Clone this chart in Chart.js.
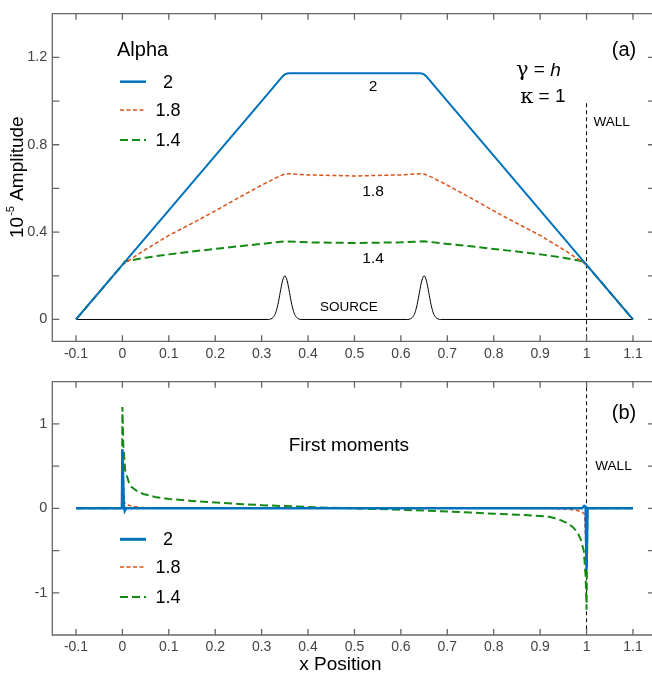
<!DOCTYPE html>
<html>
<head>
<meta charset="utf-8">
<script src="https://cdn.jsdelivr.net/npm/chart.js@4.4.1/dist/chart.umd.min.js"></script>
<style>
  html, body { margin: 0; padding: 0; background: #fff; }
  #wrap { position: relative; width: 652px; height: 679px; }
  canvas { position: absolute; left: 0; top: 0; }
</style>
</head>
<body>
<div id="wrap">
  <canvas id="topChart" width="652" height="679"></canvas>
  <canvas id="bottomChart" width="652" height="679"></canvas>
</div>
<script>
// axis ticks
const xTicks = [-0.1, 0, 0.1, 0.2, 0.3, 0.4, 0.5, 0.6, 0.7, 0.8, 0.9, 1, 1.1];
const xTickLabels = ['-0.1', '0', '0.1', '0.2', '0.3', '0.4', '0.5', '0.6', '0.7', '0.8', '0.9', '1', '1.1'];
const topYTicks = [0, 0.4, 0.8, 1.2];
const topYLabels = ['0', '0.4', '0.8', '1.2'];
const topYMinor = [0.2, 0.6, 1.0];
const bottomYTicks = [-1, 0, 1];
const bottomYLabels = ['-1', '0', '1'];
const bottomYMinor = [-0.5, 0.5];
const legendLabels = ['2', '1.8', '1.4'];

// (a) amplitude
const ampX2 = [-0.1, 0, 0.3, 0.33, 0.34, 0.345, 0.35, 0.355, 0.36, 0.64, 0.645, 0.65, 0.655, 0.66, 0.67, 0.7, 1.0, 1.1];
const ampY2 = [0, 0.25, 1.0, 1.075, 1.1, 1.113, 1.122, 1.126, 1.127, 1.127, 1.126, 1.122, 1.113, 1.1, 1.075, 1.0, 0.25, 0];

const ampX18 = [-0.1, 0, 0.045, 0.1, 0.15, 0.2, 0.25, 0.3, 0.34, 0.35, 0.36, 0.4, 0.5, 0.6, 0.64, 0.65, 0.66, 0.7, 0.75, 0.8, 0.85, 0.9, 0.955, 1.0, 1.1];
const ampY18 = [0, 0.25, 0.314, 0.385, 0.44, 0.497, 0.557, 0.615, 0.658, 0.666, 0.667, 0.662, 0.657, 0.662, 0.667, 0.666, 0.658, 0.615, 0.557, 0.497, 0.44, 0.385, 0.314, 0.25, 0];

const ampX14 = [-0.1, 0, 0.005, 0.05, 0.1, 0.15, 0.2, 0.25, 0.3, 0.35, 0.4, 0.5, 0.6, 0.65, 0.7, 0.75, 0.8, 0.85, 0.9, 0.95, 0.995, 1.0, 1.1];
const ampY14 = [0, 0.25, 0.265, 0.283, 0.298, 0.311, 0.323, 0.335, 0.346, 0.358, 0.353, 0.350, 0.353, 0.358, 0.346, 0.335, 0.323, 0.311, 0.298, 0.283, 0.265, 0.25, 0];

const sourceX = [-0.1, 0.315, 0.32, 0.325, 0.33, 0.335, 0.34, 0.345, 0.35, 0.355, 0.36, 0.365, 0.37, 0.375, 0.38, 0.385,
                 0.615, 0.62, 0.625, 0.63, 0.635, 0.64, 0.645, 0.65, 0.655, 0.66, 0.665, 0.67, 0.675, 0.68, 0.685, 1.1];
const sourceY = [0, 0, 0.0025, 0.01, 0.029, 0.068, 0.124, 0.177, 0.2, 0.177, 0.124, 0.068, 0.029, 0.01, 0.0025, 0,
                 0, 0.0025, 0.01, 0.029, 0.068, 0.124, 0.177, 0.2, 0.177, 0.124, 0.068, 0.029, 0.01, 0.0025, 0, 0];

const wallX = [1, 1];
const wallTopY = [0.99, -0.2];
const wallBottomY = [1.6, -1.6];

// (b) first moments
const momX2 = [-0.1, -0.001, 0, 0.003, 0.005, 0.008, 0.99, 0.995, 0.998, 1.0, 1.002, 1.1];
const momY2 = [0, 0, 0.7, 0.05, -0.03, 0, 0, 0.03, 0.02, -0.73, 0, 0];

const momX18 = [-0.1, -0.001, 0, 0.004, 0.01, 0.02, 0.04, 0.08, 0.15, 0.85, 0.92, 0.96, 0.98, 0.99, 0.996, 1.0, 1.002, 1.1];
const momY18 = [0, 0, 0.7, 0.07, 0.045, 0.025, 0.01, 0.003, 0, 0, -0.003, -0.01, -0.025, -0.045, -0.07, -0.7, 0, 0];

const momX14 = [-0.1, -0.001, 0, 0.002, 0.006, 0.016, 0.03, 0.045, 0.07, 0.1, 0.15, 0.2, 0.25, 0.3, 0.35, 0.4, 0.45, 0.5,
                0.55, 0.6, 0.65, 0.7, 0.75, 0.8, 0.85, 0.9, 0.92, 0.94, 0.96, 0.97, 0.98, 0.987, 0.994, 0.998, 1.0, 1.002, 1.1];
const momY14 = [0, 0, 1.2, 0.75, 0.45, 0.27, 0.21, 0.17, 0.135, 0.112, 0.088, 0.07, 0.052, 0.038, 0.027, 0.016, 0.007, 0,
                -0.007, -0.016, -0.027, -0.038, -0.05, -0.063, -0.075, -0.09, -0.1, -0.13, -0.18, -0.22, -0.28, -0.36, -0.5, -0.8, -1.2, 0, 0];

const BLUE = '#0072BD';
const ORANGE = '#D95319';
const GREEN = '#138A13';
const SANS = '"Liberation Sans", Arial, Helvetica, sans-serif';
const SERIF = '"DejaVu Serif", "Liberation Serif", serif';

const pts = (xs, ys) => xs.map((x, i) => ({ x: x, y: ys[i] }));

function line(data, color, width, dash, extra) {
    return Object.assign({
        data: data,
        showLine: true,
        borderColor: color,
        borderWidth: width,
        borderDash: dash,
        pointRadius: 0,
        fill: false,
        tension: 0
    }, extra || {});
}

function drawLegend(ctx, rows, blueWidth) {
    const styles = [
        { color: BLUE, width: blueWidth, dash: [] },
        { color: ORANGE, width: 1.5, dash: [4, 2.5] },
        { color: GREEN, width: 2, dash: [8, 4] }
    ];
    ctx.font = '18px ' + SANS;
    ctx.textBaseline = 'middle';
    ctx.textAlign = 'center';
    styles.forEach((s, i) => {
        ctx.save();
        ctx.strokeStyle = s.color;
        ctx.lineWidth = s.width;
        ctx.setLineDash(s.dash);
        ctx.beginPath();
        ctx.moveTo(120, rows[i]);
        ctx.lineTo(146, rows[i]);
        ctx.stroke();
        ctx.restore();
        ctx.fillStyle = '#000';
        ctx.fillText(legendLabels[i], 168, rows[i] + 1);
    });
}

function decor(yMinor, extras) {
    return {
        id: 'decor',
        afterDraw(chart) {
            const ctx = chart.ctx;
            const a = chart.chartArea;
            const xs = chart.scales.x, ys = chart.scales.y;
            ctx.save();
            ctx.strokeStyle = '#666';
            ctx.lineWidth = 1.3;
            // left, top and bottom of the box (right edge falls off the page)
            ctx.beginPath();
            ctx.moveTo(a.right, a.top); ctx.lineTo(a.left, a.top);
            ctx.lineTo(a.left, a.bottom); ctx.lineTo(a.right, a.bottom);
            ctx.stroke();
            ctx.beginPath();
            xTicks.forEach(v => {
                const p = xs.getPixelForValue(v);
                ctx.moveTo(p, a.bottom); ctx.lineTo(p, a.bottom - 6);
                ctx.moveTo(p, a.top); ctx.lineTo(p, a.top + 6);
            });
            ys.ticks.map(t => t.value).concat(yMinor).forEach(v => {
                const p = ys.getPixelForValue(v);
                ctx.moveTo(a.left, p); ctx.lineTo(a.left + 7, p);
                ctx.moveTo(a.right, p); ctx.lineTo(a.right - 4, p);
            });
            ctx.stroke();
            ctx.fillStyle = '#000';
            extras(ctx, xs, ys);
            ctx.restore();
        }
    };
}

function options(yMin, yMax, yTicks, yLabels, padTop, padBottom, xHeight) {
    return {
        responsive: false,
        animation: false,
        events: [],
        layout: { padding: { top: padTop, bottom: padBottom, left: 0, right: 0 } },
        plugins: { legend: { display: false }, tooltip: { enabled: false } },
        scales: {
            x: {
                type: 'linear', min: -0.151, max: 1.141, bounds: 'data',
                grid: { display: false, drawTicks: false },
                border: { display: false },
                afterBuildTicks: s => { s.ticks = xTicks.map(v => ({ value: v })); },
                afterFit: s => { s.height = xHeight; },
                ticks: {
                    callback: (v, i) => xTickLabels[i],
                    color: '#444', font: { family: SANS, size: 14 },
                    padding: 4, maxRotation: 0, autoSkip: false
                }
            },
            y: {
                type: 'linear', min: yMin, max: yMax, bounds: 'data',
                grid: { display: false, drawTicks: false },
                border: { display: false },
                afterBuildTicks: s => { s.ticks = yTicks.map(v => ({ value: v })); },
                afterFit: s => { s.width = 52.3; },
                ticks: {
                    callback: (v, i) => yLabels[i],
                    color: '#444', font: { family: SANS, size: 14.5 },
                    padding: 5, autoSkip: false
                }
            }
        }
    };
}

new Chart(document.getElementById('topChart'), {
    type: 'scatter',
    data: {
        datasets: [
            line(pts(ampX2, ampY2), BLUE, 2, []),
            line(pts(ampX18, ampY18), ORANGE, 1.5, [4, 2.5]),
            line(pts(ampX14, ampY14), GREEN, 2, [8, 4]),
            line(pts(sourceX, sourceY), '#000', 1, [], { cubicInterpolationMode: 'monotone' }),
            line(pts(wallX, wallTopY), '#000', 1, [4, 3])
        ]
    },
    options: options(-0.1, 1.4, topYTicks, topYLabels, 4, 307.7, 30),
    plugins: [decor(topYMinor, (ctx, x, y) => {
        ctx.textBaseline = 'middle';
        ctx.textAlign = 'center';
        ctx.font = '15.5px ' + SANS;
        ctx.fillText('2', x.getPixelForValue(0.54), y.getPixelForValue(1.067));
        ctx.fillText('1.8', x.getPixelForValue(0.54), y.getPixelForValue(0.587));
        ctx.fillText('1.4', x.getPixelForValue(0.54), y.getPixelForValue(0.276));
        ctx.font = '13.5px ' + SANS;
        ctx.fillText('SOURCE', x.getPixelForValue(0.488), y.getPixelForValue(0.058));
        ctx.textAlign = 'left';
        ctx.fillText('WALL', x.getPixelForValue(1.015), y.getPixelForValue(0.903));
        ctx.textAlign = 'right';
        ctx.font = '20px ' + SANS;
        ctx.fillText('(a)', x.getPixelForValue(1.107), y.getPixelForValue(1.233));

        // gamma = h, kappa = 1
        ctx.textAlign = 'left';
        let px = x.getPixelForValue(0.848), py = y.getPixelForValue(1.141);
        ctx.font = '21px ' + SERIF;
        ctx.fillText('γ', px, py);
        px += ctx.measureText('γ').width;
        ctx.font = '19px ' + SANS;
        ctx.fillText(' = ', px, py);
        px += ctx.measureText(' = ').width;
        ctx.font = 'italic 19px ' + SANS;
        ctx.fillText('h', px, py);
        px = x.getPixelForValue(0.857); py = y.getPixelForValue(1.018);
        ctx.font = '21px ' + SERIF;
        ctx.fillText('κ', px, py);
        px += ctx.measureText('κ').width;
        ctx.font = '19px ' + SANS;
        ctx.fillText(' = 1', px, py);

        // legend
        ctx.font = '20px ' + SANS;
        ctx.fillText('Alpha', 117, 50);
        drawLegend(ctx, [81.7, 110, 140], 2.5);

        // y title with superscript
        ctx.save();
        ctx.translate(18, 180);
        ctx.rotate(-Math.PI / 2);
        ctx.textAlign = 'left';
        ctx.font = '19px ' + SANS;
        let tx = -58;
        ctx.fillText('10', tx, 0);
        tx += ctx.measureText('10').width + 1;
        ctx.font = '11px ' + SANS;
        ctx.fillText('-5', tx, -7);
        tx += ctx.measureText('-5').width;
        ctx.font = '19px ' + SANS;
        ctx.fillText(' Amplitude', tx, 0);
        ctx.restore();
    })]
});

new Chart(document.getElementById('bottomChart'), {
    type: 'scatter',
    data: {
        datasets: [
            line(pts(momX2, momY2), BLUE, 2.5, []),
            line(pts(momX18, momY18), ORANGE, 1.5, [4, 2.5]),
            line(pts(momX14, momY14), GREEN, 2, [8, 4]),
            line(pts(wallX, wallBottomY), '#000', 1, [4, 3])
        ]
    },
    options: options(-1.5, 1.5, bottomYTicks, bottomYLabels, 381.7, 0, 44),
    plugins: [decor(bottomYMinor, (ctx, x, y) => {
        ctx.textBaseline = 'middle';
        ctx.textAlign = 'right';
        ctx.font = '20px ' + SANS;
        ctx.fillText('(b)', x.getPixelForValue(1.107), y.getPixelForValue(1.123));
        ctx.textAlign = 'center';
        ctx.font = '19px ' + SANS;
        ctx.fillText('First moments', x.getPixelForValue(0.488), y.getPixelForValue(0.739));
        ctx.textAlign = 'left';
        ctx.font = '13.5px ' + SANS;
        ctx.fillText('WALL', x.getPixelForValue(1.019), y.getPixelForValue(0.498));
        drawLegend(ctx, [539.3, 567, 597], 3);
        ctx.textAlign = 'center';
        ctx.font = '19px ' + SANS;
        ctx.fillText('x Position', 340.5, 665);
    })]
});
</script>
</body>
</html>
